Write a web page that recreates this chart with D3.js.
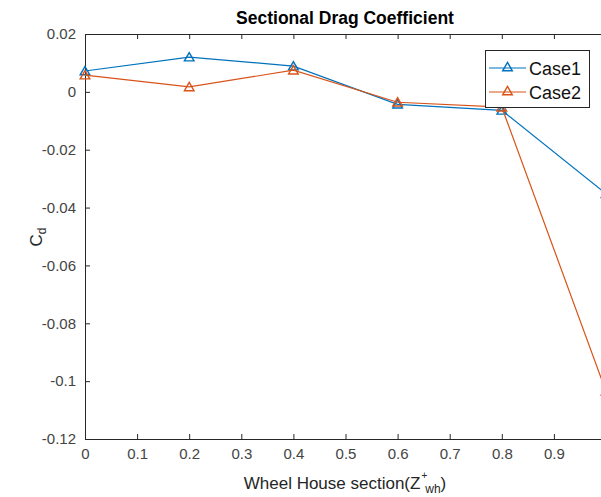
<!DOCTYPE html>
<html>
<head>
<meta charset="utf-8">
<script src="https://cdn.jsdelivr.net/npm/d3@7"></script>
<style>
  html, body { margin: 0; padding: 0; background: #fff; overflow: hidden; }
  svg { display: block; font-family: "Liberation Sans", Arial, Helvetica, sans-serif; }
</style>
</head>
<body>
<svg id="chart" width="601" height="497"></svg>
<script>
// Wheel house sections and sectional drag coefficients
const sections = [0, 0.2, 0.4, 0.6, 0.8, 1.0];
const case1 = [0.0072, 0.0120, 0.0089, -0.0043, -0.0064, -0.0352];
const case2 = [0.0058, 0.0017, 0.0075, -0.0036, -0.0053, -0.1035];
const xTicks = [0, 0.1, 0.2, 0.3, 0.4, 0.5, 0.6, 0.7, 0.8, 0.9, 1];
const xTickLabels = ["0", "0.1", "0.2", "0.3", "0.4", "0.5", "0.6", "0.7", "0.8", "0.9", ""];
const yTicks = [0.02, 0, -0.02, -0.04, -0.06, -0.08, -0.1, -0.12];
const yTickLabels = ["0.02", "0", "-0.02", "-0.04", "-0.06", "-0.08", "-0.1", "-0.12"];
const seriesNames = ["Case1", "Case2"];
const seriesColors = ["#0072BD", "#D95319"];

const svg = d3.select("#chart");
const plotLeft = 85, plotRight = 606, plotTop = 34, plotBottom = 439;
const axisColor = "#262626";

const x = d3.scaleLinear().domain([0, 1]).range([plotLeft, plotRight]);
const y = d3.scaleLinear().domain([-0.12, 0.02]).range([plotBottom, plotTop]);

// Bottom axis (ticks pointing inward)
const gx = svg.append("g").attr("transform", `translate(0,${plotBottom})`)
  .call(d3.axisBottom(x).tickValues(xTicks).tickSize(-5).tickSizeOuter(0).tickPadding(9)
    .tickFormat((d, i) => xTickLabels[i]));
// Top axis (ticks only)
const gxt = svg.append("g").attr("transform", `translate(0,${plotTop})`)
  .call(d3.axisTop(x).tickValues(xTicks).tickSize(-5).tickSizeOuter(0).tickFormat(""));
// Left axis
const gy = svg.append("g").attr("transform", `translate(${plotLeft},0)`)
  .call(d3.axisLeft(y).tickValues(yTicks).tickSize(-5).tickSizeOuter(0).tickPadding(9)
    .tickFormat((d, i) => yTickLabels[i]));
// Right axis (ticks only)
const gyr = svg.append("g").attr("transform", `translate(${plotRight},0)`)
  .call(d3.axisRight(y).tickValues(yTicks).tickSize(-5).tickSizeOuter(0).tickFormat(""));

[gx, gxt, gy, gyr].forEach(g => {
  g.selectAll("path.domain").attr("stroke", axisColor).attr("stroke-width", 1);
  g.selectAll(".tick line").attr("stroke", axisColor).attr("stroke-width", 1);
  g.selectAll(".tick text").attr("fill", "#444").attr("font-size", 15)
    .attr("font-family", "Liberation Sans, Arial, sans-serif");
});

// Series lines and open triangle markers
const tri = d3.symbol().type(d3.symbolTriangle).size(40);
const line = d3.line().x((d, i) => x(sections[i])).y(d => y(d));
const plot = svg.append("g");
[case1, case2].forEach((vals, k) => {
  plot.append("path").datum(vals)
    .attr("d", line).attr("fill", "none")
    .attr("stroke", seriesColors[k]).attr("stroke-width", 1.2);
  plot.selectAll(null).data(vals).enter().append("path")
    .attr("d", tri)
    .attr("transform", (d, i) => `translate(${x(sections[i])},${y(d) + 1})`)
    .attr("fill", "none").attr("stroke", seriesColors[k]).attr("stroke-width", 1.4);
});

// Title
svg.append("text").attr("x", 345).attr("y", 24)
  .attr("text-anchor", "middle").attr("font-weight", "bold").attr("font-size", 17.5)
  .attr("fill", "#000").text("Sectional Drag Coefficient");

// X label with super/subscript
const xl = svg.append("text").attr("x", 345).attr("y", 489)
  .attr("text-anchor", "middle").attr("font-size", 17).attr("fill", axisColor);
xl.append("tspan").text("Wheel House section(Z");
xl.append("tspan").attr("font-size", 10).attr("dy", -10).attr("dx", 1).text("+");
xl.append("tspan").attr("font-size", 12).attr("dy", 14).attr("dx", -2).text("wh");
xl.append("tspan").attr("dy", -4).text(")");

// Y label
const yl = svg.append("text").attr("transform", "translate(42,237) rotate(-90)")
  .attr("text-anchor", "middle").attr("font-size", 17).attr("fill", axisColor);
yl.append("tspan").text("C");
yl.append("tspan").attr("font-size", 12).attr("dy", 4).text("d");

// Legend
const lg = svg.append("g");
lg.append("rect").attr("x", 485.5).attr("y", 50.5).attr("width", 104).attr("height", 57)
  .attr("fill", "#fff").attr("stroke", axisColor).attr("stroke-width", 1);
seriesNames.forEach((name, k) => {
  const cy = 68 + k * 24;
  lg.append("line").attr("x1", 489).attr("x2", 526).attr("y1", cy).attr("y2", cy)
    .attr("stroke", seriesColors[k]).attr("stroke-width", 1.2);
  lg.append("path").attr("d", tri).attr("transform", `translate(507.5,${cy})`)
    .attr("fill", "none").attr("stroke", seriesColors[k]).attr("stroke-width", 1.4);
  lg.append("text").attr("x", 529).attr("y", cy + 6.5).attr("font-size", 18)
    .attr("fill", "#111").text(name);
});
</script>
</body>
</html>
